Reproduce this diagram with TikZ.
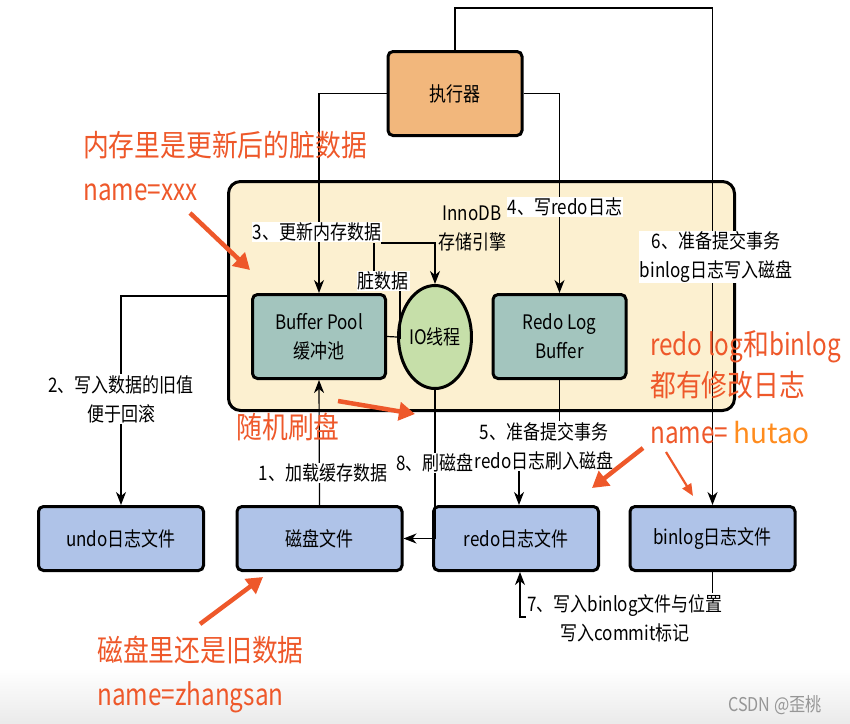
\documentclass[tikz,border=0pt]{standalone}
\usepackage{fontspec}
\setmainfont{Noto Sans CJK SC}[FakeStretch=0.85]
\newfontfamily\annfont{Noto Sans CJK SC}[FakeStretch=0.86]
\newfontfamily\annlat{Noto Sans CJK SC}[FakeStretch=0.81]
\newfontfamily\hutfont{Noto Sans CJK SC}
\usetikzlibrary{arrows.meta,shapes.geometric,calc}
\definecolor{execfill}{RGB}{242,183,124}
\definecolor{innofill}{RGB}{252,240,208}
\definecolor{tealfill}{RGB}{163,197,190}
\definecolor{iofill}{RGB}{198,223,169}
\definecolor{bluefill}{RGB}{175,195,232}
\definecolor{annorange}{RGB}{238,88,42}
\definecolor{hutorange}{RGB}{255,140,30}
\definecolor{wmgray}{RGB}{150,150,150}
\begin{document}
\begin{tikzpicture}[x=1pt,y=-1pt,
  txt/.style={font=\fontsize{20}{29}\selectfont},
  exebox/.style={draw=black,line width=3pt,rounded corners=5pt,fill=execfill,minimum width=134pt,minimum height=84pt,align=center,txt},
  innobox/.style={draw=black,line width=3pt,rounded corners=12pt,fill=innofill,minimum width=506pt,minimum height=229pt},
  tealbox/.style={draw=black,line width=3pt,rounded corners=5pt,fill=tealfill,minimum width=133pt,minimum height=84pt,align=center,txt},
  iobox/.style={draw=black,line width=3pt,ellipse,fill=iofill,minimum width=63pt,minimum height=103pt,inner sep=0pt,align=center,txt},
  bluebox/.style={draw=black,line width=3pt,rounded corners=5pt,fill=bluefill,minimum width=165pt,minimum height=64pt,align=center,txt},
  lbl/.style={fill=white,inner sep=1pt,align=center,txt},
  plainlbl/.style={inner sep=1pt,align=center,txt},
  conn/.style={line width=1.2pt,draw=black},
  arr/.style={conn,-{Stealth[length=13pt,width=10pt,inset=4pt]}},
  anntxt/.style={text=annorange,font=\annfont\fontsize{30}{38}\selectfont,inner sep=0pt},
  annarr/.style={draw=annorange,line width=4.5pt,-{Triangle[length=16pt,width=18pt]}},
  annarrthin/.style={draw=annorange,line width=2.2pt,-{Triangle[length=12pt,width=10pt]}}
]
\useasboundingbox (0,0) rectangle (850,723);
\shade[top color=white,bottom color=black!8] (0,668) rectangle (850,723);

% container
\node[innobox] (inno) at (481.5,296) {};
% boxes
\node[exebox] (exe) at (455,93.5) {执行器};
\node[tealbox] (bp) at (319,336.5) {Buffer Pool\\缓冲池};
\node[iobox] (io) at (435,337) {IO线程};
\node[tealbox] (rlb) at (559.5,336.5) {Redo Log\\Buffer};
\node[bluebox] (undo) at (121,538.5) {undo日志文件};
\node[bluebox] (disk) at (319.5,538.5) {磁盘文件};
\node[bluebox] (redo) at (516,538.5) {redo日志文件};
\node[bluebox] (binlog) at (712.5,538.5) {binlog日志文件};

% connectors
\draw[arr] (exe.west) -| (bp.north);
\draw[arr] (exe.east) -| (rlb.north);
\draw[arr] (exe.north) -- ++(0,-42) -| (binlog.north);
\draw[arr] (inno.west) -| (undo.north);
\draw[arr] (disk.north) -- (bp.south);
\draw[arr] (io.south) |- (disk.east);
\draw[arr] (rlb.south) -- ++(0,66) -| ([xshift=3pt]redo.north);
\draw[arr] (binlog.south) -- ++(0,45) -| ([xshift=4pt]redo.south);
\draw[conn] (bp.east) -- (io.west);

% inner labels
\node[lbl] (l3) at (317,232) {3、更新内存数据};
\coordinate (c3) at (381,243);
\coordinate (c3b) at (374,243);
\draw[arr] (c3) -| (io.north);
\node[lbl] (ld) at (383,281) {脏数据};
\draw[conn] (c3b) -- (c3b |- ld.north);
\coordinate (j) at (400,339);
\draw[conn] (ld.south -| j) -- (j);
\node[plainlbl] (innolbl) at (472,228) {InnoDB\\存储引擎};
\node[lbl] (l4) at (565,207) {4、写redo日志};
\node[lbl] (l6) at (716,257) {6、准备提交事务\\binlog日志写入磁盘};

% outer labels
\node[lbl] (l2) at (121,399) {2、写入数据的旧值\\便于回滚};
\node[lbl] (l1) at (323,473) {1、加载缓存数据};
\node[lbl] (l8) at (435,463) {8、刷磁盘};
\node[lbl] (l5) at (544,446) {5、准备提交事务\\redo日志刷入磁盘};
\node[lbl] (l7) at (625,618) {7、写入binlog文件与位置\\写入commit标记};

% annotations
\node[anntxt] (a1) at (225,145) {内存里是更新后的脏数据};
\node[anntxt,anchor=west] (a2) at (83,192) {\annlat name=xxx};
\coordinate (a2s) at (190,213);
\coordinate (a2e) at (250,270);
\draw[annarr] (a2s) -- (a2e);
\node[anntxt] (a3) at (288,427) {随机刷盘};
\coordinate (a3s) at (338,401);
\coordinate (a3e) at (415,414);
\draw[annarr] (a3s) -- (a3e);
\node[anntxt,anchor=west] (a4) at (650,347) {{\annlat redo log}和{\annlat binlog}};
\node[anntxt,anchor=west] (a5) at (650,385) {都有修改日志};
\node[anntxt,anchor=west] (a6) at (650,433) {{\annlat name=}\,{\hutfont\color{hutorange}\fontsize{28}{34}\selectfont hutao}};
\coordinate (a6s) at (643,448);
\coordinate (a6e) at (592,488);
\draw[annarr] (a6s) -- (a6e);
\coordinate (a6t) at (666,452);
\coordinate (a6u) at (693,496);
\draw[annarrthin] (a6t) -- (a6u);
\node[anntxt,anchor=west] (a7) at (97,650) {磁盘里还是旧数据};
\node[anntxt,anchor=west] (a8) at (97,697) {\annlat name=zhangsan};
\coordinate (a7s) at (200,624);
\coordinate (a7e) at (263,577);
\draw[annarr] (a7s) -- (a7e);

\node[text=wmgray,font=\fontsize{19}{21}\selectfont] (wm) at (775,705) {CSDN @歪桃};
\end{tikzpicture}
\end{document}
